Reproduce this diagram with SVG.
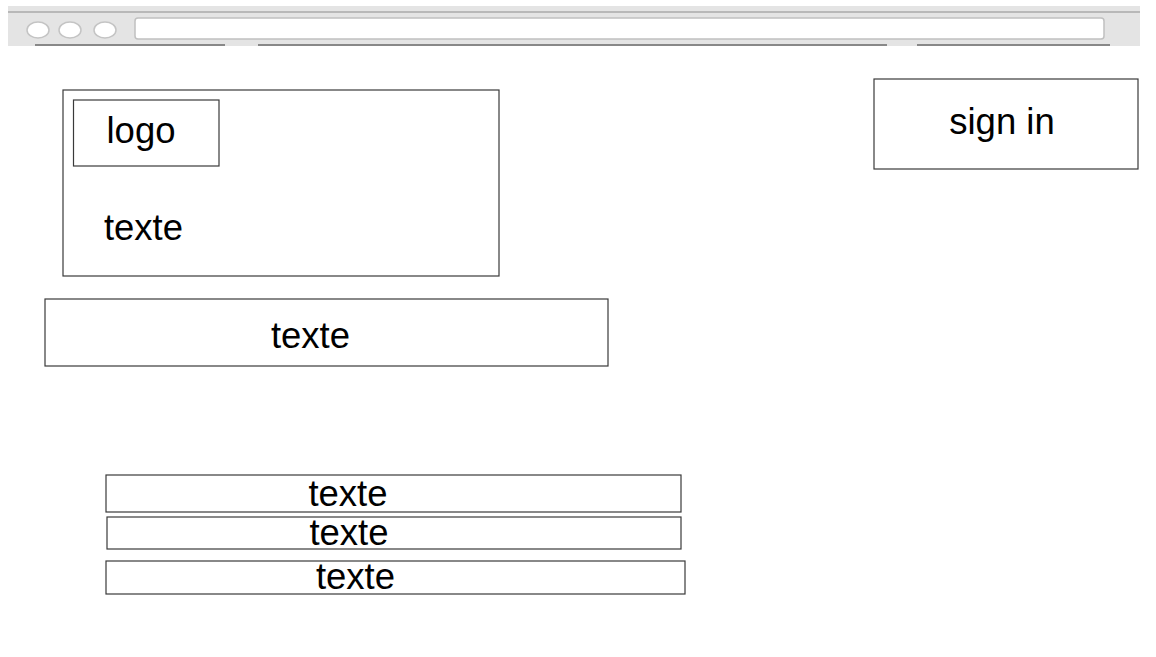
<svg xmlns="http://www.w3.org/2000/svg" width="1156" height="657" viewBox="0 0 1156 657">
<style>
.box{fill:#fff;stroke:#3a3a3a;stroke-width:1.2}
.t{font-family:"Liberation Sans",Arial,sans-serif;font-size:36.5px;fill:#000;text-anchor:middle}
.dot{fill:#fff;stroke:#c4c4c4;stroke-width:1.5}
.tab{stroke:#888;stroke-width:2}
</style>
<rect width="1156" height="657" fill="#fff"/>
<g id="browser-bar">
<rect x="8" y="6" width="1132" height="40" fill="#e4e4e4"/>
<line x1="8" y1="12" x2="1140" y2="12" stroke="#b8b8b8" stroke-width="2"/>
<ellipse class="dot" cx="38" cy="30" rx="11" ry="8"/>
<ellipse class="dot" cx="70" cy="30" rx="11" ry="8"/>
<ellipse class="dot" cx="105" cy="30" rx="11" ry="8"/>
<rect x="135" y="18" width="969" height="21" rx="3" fill="#fff" stroke="#c0c0c0" stroke-width="1.5"/>
<line class="tab" x1="35" y1="45" x2="225" y2="45"/>
<line class="tab" x1="258" y1="45" x2="887" y2="45"/>
<line class="tab" x1="917" y1="45" x2="1110" y2="45"/>
</g>
<g id="header">
<rect class="box" x="63" y="90" width="436" height="186"/>
<text class="t" x="143.5" y="240">texte</text>
</g>
<g id="logo">
<rect class="box" x="73.5" y="100" width="145.5" height="66"/>
<text class="t" x="141" y="143">logo</text>
</g>
<g id="sign-in">
<rect class="box" x="874" y="79" width="264" height="90"/>
<text class="t" x="1002" y="134">sign in</text>
</g>
<g id="banner">
<rect class="box" x="45" y="299" width="563" height="67"/>
<text class="t" x="310.5" y="348">texte</text>
</g>
<g id="row1">
<rect class="box" x="106" y="475" width="575" height="37"/>
<text class="t" x="348" y="506">texte</text>
</g>
<g id="row2">
<rect class="box" x="107" y="517" width="574" height="32"/>
<text class="t" x="349" y="545">texte</text>
</g>
<g id="row3">
<rect class="box" x="106" y="561" width="579" height="33"/>
<text class="t" x="355.5" y="589">texte</text>
</g>
<g id="connectors"></g>
</svg>
